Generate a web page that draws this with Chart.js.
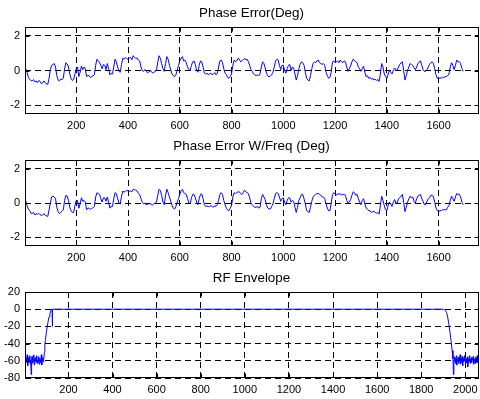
<!DOCTYPE html>
<html><head><meta charset="utf-8">
<script src="https://cdn.jsdelivr.net/npm/chart.js@4"></script>
<style>
html,body{margin:0;padding:0;background:#fff;}
#wrap{position:relative;width:480px;height:399px;overflow:hidden;background:#fff;}
.p{position:absolute;left:0;width:503px;}
</style></head><body>
<div id="wrap">
<div class="p" style="top:0;height:133px"><canvas id="c1"></canvas></div>
<div class="p" style="top:133px;height:132px"><canvas id="c2"></canvas></div>
<div class="p" style="top:265px;height:134px"><canvas id="c3"></canvas></div>
</div>
<script>
// ---- data ----
const phaseStart = 0, phaseStep = 5;   // sample index of first value, spacing
const phaseError = [
 0.15,0.1,-0.1,-0.4,-0.5,-0.58,-0.6,-0.52,-0.65,-0.6,-0.7,-0.58,-0.62,-0.75,-0.72,-0.6,-0.68,-0.78,-0.8,-0.45,
 0.05,0.3,0.35,0.4,0.2,-0.3,-0.55,-0.6,-0.5,-0.52,-0.45,0.1,0.45,0.38,0.2,-0.2,-0.45,-0.58,-0.5,-0.2,
 0.1,0.2,-0.35,-0.1,0.25,0.05,0.2,0.1,-0.35,-0.28,-0.3,-0.4,-0.35,-0.3,-0.25,0.3,0.65,0.55,0.45,0.3,
 0.1,0.35,0.3,0.05,0.4,0.1,-0.25,-0.15,-0.2,0.2,0.65,0.5,0.2,-0.05,-0.1,0.35,0.7,0.65,0.75,0.68,
 0.65,0.72,0.75,0.62,0.85,0.75,0.7,0.72,0.6,0.55,0.2,0.0,-0.05,0.05,-0.05,-0.12,-0.1,0.0,-0.05,-0.15,
 -0.1,-0.05,0.0,0.5,0.85,0.7,0.4,0.1,-0.05,0.4,0.8,0.65,0.3,0.05,-0.2,-0.3,-0.35,-0.25,0.0,0.3,
 0.55,0.7,0.8,0.55,0.6,0.45,0.2,0.05,0.0,0.3,0.5,0.55,0.35,0.0,-0.1,0.3,0.55,0.5,0.2,-0.15,
 -0.2,-0.15,-0.25,-0.2,-0.15,-0.25,-0.2,-0.12,-0.25,-0.15,0.2,0.55,0.6,0.45,0.1,-0.15,-0.25,-0.4,-0.45,-0.35,
 -0.2,0.3,0.6,0.5,0.55,0.7,0.65,0.5,0.55,0.62,0.7,0.6,0.65,0.5,0.3,0.05,-0.05,-0.2,-0.25,-0.3,
 -0.25,-0.3,-0.2,0.2,0.5,0.4,0.15,-0.15,-0.3,-0.38,-0.3,-0.25,-0.1,0.2,0.55,0.65,0.6,0.3,0.05,0.3,
 0.3,0.0,-0.15,0.1,0.3,0.35,0.0,0.2,0.15,-0.2,-0.55,-0.3,0.1,0.35,0.5,0.45,0.3,-0.1,-0.45,-0.55,
 -0.6,-0.3,0.1,0.4,0.5,0.45,0.55,0.6,0.45,0.4,0.35,0.4,0.3,-0.1,-0.3,-0.45,-0.4,-0.1,0.5,0.55,
 0.45,0.5,0.55,0.45,0.6,0.5,0.45,0.55,0.5,0.2,-0.05,0.1,0.25,0.5,0.65,0.55,0.5,0.45,0.2,0.1,
 -0.05,0.1,0.25,-0.1,-0.35,-0.3,-0.45,-0.4,-0.5,-0.45,-0.55,-0.5,-0.58,-0.52,-0.63,-0.2,0.4,0.2,-0.2,-0.35,
 -0.45,-0.2,0.0,-0.1,-0.2,0.0,0.15,0.05,0.0,0.2,0.35,0.45,0.5,0.0,-0.55,-0.3,0.0,0.2,0.4,0.35,
 0.3,0.15,0.05,0.2,0.4,0.5,0.55,0.3,0.05,-0.05,-0.05,0.05,0.2,0.35,0.45,0.5,0.4,0.1,-0.25,-0.45,
 -0.5,-0.4,-0.45,-0.38,-0.42,-0.35,-0.35,-0.3,-0.2,0.2,0.45,0.3,0.05,0.3,0.6,0.5,0.5,0.4,0.1,-0.05
];
const phaseErrorWFreq = [
 0.2,0.1,-0.15,-0.35,-0.45,-0.6,-0.6,-0.55,-0.7,-0.62,-0.65,-0.6,-0.68,-0.72,-0.7,-0.62,-0.72,-0.75,-0.78,-0.4,
 0.0,0.35,0.4,0.35,0.25,-0.25,-0.5,-0.62,-0.55,-0.48,-0.4,0.15,0.45,0.4,0.15,-0.25,-0.45,-0.55,-0.55,-0.15,
 0.15,0.15,-0.3,-0.05,0.3,0.1,0.15,0.05,-0.4,-0.3,-0.3,-0.38,-0.3,-0.28,-0.2,0.35,0.6,0.55,0.5,0.25,
 0.05,0.3,0.3,0.1,0.35,0.05,-0.3,-0.18,-0.2,0.25,0.6,0.55,0.25,0.0,-0.05,0.4,0.7,0.62,0.7,0.72,
 0.7,0.68,0.7,0.65,0.8,0.78,0.75,0.7,0.55,0.5,0.25,0.05,-0.05,0.0,-0.1,-0.08,-0.05,-0.02,-0.1,-0.12,
 -0.05,0.0,0.05,0.45,0.8,0.72,0.45,0.05,-0.1,0.45,0.8,0.6,0.35,0.1,-0.15,-0.3,-0.35,-0.2,0.05,0.25,
 0.5,0.72,0.8,0.6,0.55,0.5,0.25,0.0,-0.05,0.3,0.5,0.5,0.3,0.05,-0.1,0.25,0.5,0.52,0.25,-0.1,
 -0.2,-0.18,-0.2,-0.22,-0.15,-0.2,-0.25,-0.15,-0.2,-0.1,0.15,0.5,0.6,0.5,0.15,-0.1,-0.3,-0.4,-0.45,-0.3,
 -0.15,0.35,0.6,0.55,0.6,0.65,0.65,0.55,0.5,0.6,0.75,0.65,0.6,0.55,0.3,0.0,-0.1,-0.2,-0.25,-0.25,
 -0.2,-0.3,-0.25,0.25,0.5,0.35,0.2,-0.1,-0.3,-0.35,-0.35,-0.2,-0.05,0.25,0.55,0.6,0.55,0.35,0.1,0.25,
 0.3,0.05,-0.1,0.15,0.3,0.3,0.05,0.15,0.1,-0.25,-0.55,-0.25,0.15,0.3,0.5,0.5,0.25,-0.05,-0.45,-0.5,
 -0.55,-0.25,0.1,0.35,0.45,0.5,0.55,0.55,0.5,0.45,0.35,0.35,0.25,-0.05,-0.3,-0.45,-0.45,-0.05,0.5,0.6,
 0.5,0.45,0.55,0.5,0.55,0.45,0.5,0.5,0.45,0.15,0.0,0.05,0.2,0.45,0.65,0.6,0.45,0.5,0.25,0.05,
 -0.1,0.15,0.25,-0.05,-0.3,-0.35,-0.45,-0.45,-0.55,-0.5,-0.5,-0.55,-0.6,-0.55,-0.65,-0.15,0.4,0.15,-0.15,-0.4,
 -0.45,-0.15,0.05,-0.05,-0.2,0.05,0.2,0.0,0.0,0.25,0.3,0.4,0.5,0.05,-0.5,-0.25,0.05,0.25,0.4,0.3,
 0.35,0.1,0.0,0.25,0.4,0.45,0.5,0.25,0.1,-0.1,-0.1,0.1,0.25,0.3,0.45,0.45,0.35,0.05,-0.3,-0.45,
 -0.5,-0.45,-0.45,-0.4,-0.4,-0.38,-0.4,-0.25,-0.15,0.15,0.4,0.25,0.1,0.35,0.55,0.5,0.5,0.35,0.05,-0.1
];
const rfX = [
 3,5,7,9,11,13,15,17,19,21,23,25,27,29,31,33,35,37,39,41,43,45,47,49,51,53,55,57,59,61,63,65,67,69,71,73,75,77,79,81,83,85,87,
 89,91,93,96,100,104,108,112,116,120,124,126,127,128,130,
 1900,1905,1910,1915,1920,1925,1930,1935,1940,1944,1946,1948,
 1950,1952,1954,1956,1958,1960,1962,1964,1966,1968,1970,1972,1974,1976,1978,1980,1982,1984,1986,1988,1990,1992,1994,1996,1998,
 2000,2002,2004,2006,2008,2010,2012,2014,2016,2018,2020,2022,2024,2026,2028,2030,2032,2034,2036,2038,2040,2042,2044,2046,2048,
 2050,2052,2054,2056,2058,2060,2062
];
const rfEnvelope = [
 -58,-55,-63,-57,-61,-53,-66,-59,-56,-62,-58,-54,-64,-60,-76,-57,-55,-63,-59,-61,-53,-65,-58,-60,-56,-62,-57,-54,-63,-59,-61,-55,-64,-58,-57,-62,-60,-53,-65,-59,-56,-61,-58,
 -58,-50,-40,-35,-27,-20,-14,-9,-5,-2,0,0,-20,0,0,
 0,-0.5,-1.5,-4,-9,-17,-26,-36,-48,-58,-76,-59,
 -60,-55,-63,-57,-61,-54,-65,-58,-60,-56,-63,-57,-59,-53,-64,-60,-57,-62,-55,-66,-58,-61,-56,-60,-54,
 -63,-59,-57,-62,-58,-55,-67,-60,-57,-61,-54,-63,-58,-60,-56,-62,-57,-59,-55,-64,-60,-58,-61,-56,-63,
 -57,-59,-54,-62,-58,-60,-57
];
const phaseXTicks = [200,400,600,800,1000,1200,1400,1600];
const phaseYTicks = [-2,0,2];
const rfXTicks = [200,400,600,800,1000,1200,1400,1600,1800,2000];
const rfYTicks = [-80,-60,-40,-20,0,20];

// ---- drawing ----
const FONT = "'Liberation Sans', Arial, Helvetica, sans-serif";
Chart.defaults.font.family = FONT;
Chart.defaults.color = '#000';

const boxPlugin = {
  id: 'matlabBox',
  afterDatasetsDraw(chart) {
    const {ctx, chartArea: a, scales} = chart;
    const L = Math.round(a.left) + 0.5, R = Math.round(a.right) - 0.5;
    const T = Math.round(a.top) + 0.5, B = Math.round(a.bottom) - 0.5;
    ctx.save();
    ctx.setLineDash([]);
    ctx.strokeStyle = '#000';
    ctx.lineWidth = 1;
    ctx.strokeRect(L, T, R - L, B - T);
    ctx.beginPath();
    scales.x.ticks.forEach(t => {
      const px = Math.round(scales.x.getPixelForValue(t.value)) + 0.5;
      ctx.moveTo(px, B); ctx.lineTo(px, B - 4);
      ctx.moveTo(px, T); ctx.lineTo(px, T + 4);
    });
    scales.y.ticks.forEach(t => {
      const py = Math.round(scales.y.getPixelForValue(t.value)) + 0.5;
      ctx.moveTo(L, py); ctx.lineTo(L + 4, py);
      ctx.moveTo(R, py); ctx.lineTo(R - 4, py);
    });
    ctx.stroke();
    ctx.restore();
  }
};

function makeChart(id, title, xs, ys, xMin, xMax, yMin, yMax, xTicks, yTicks, xAxisH) {
  const pts = xs.map((x, i) => ({x, y: ys[i]}));
  return new Chart(document.getElementById(id), {
    type: 'line',
    data: { datasets: [{ data: pts, borderColor: '#0000ff', borderWidth: 1, pointRadius: 0, tension: 0, fill: false }] },
    options: {
      responsive: true, maintainAspectRatio: false, animation: false,
      layout: { padding: 0 },
      plugins: {
        legend: { display: false }, tooltip: { enabled: false },
        title: { display: true, text: title, color: '#000',
          font: { size: 13.4, weight: 'normal', family: FONT, lineHeight: '16px' },
          padding: { top: 5, bottom: 6 } }
      },
      scales: {
        x: { type: 'linear', min: xMin, max: xMax,
          afterBuildTicks: s => { s.ticks = xTicks.map(v => ({value: v})); },
          afterFit: s => { s.height = xAxisH; },
          ticks: { autoSkip: false, maxRotation: 0, padding: 5, font: { size: 11 }, color: '#000', callback: v => String(v) },
          grid: { color: '#000', lineWidth: 1, drawTicks: false },
          border: { display: false, dash: [6, 4] } },
        y: { type: 'linear', min: yMin, max: yMax,
          afterBuildTicks: s => { s.ticks = yTicks.map(v => ({value: v})); },
          afterFit: s => { s.width = 25; },
          ticks: { autoSkip: false, padding: 5, font: { size: 11 }, color: '#000', callback: v => String(v) },
          grid: { color: '#000', lineWidth: 1, drawTicks: false },
          border: { display: false, dash: [6, 4] } },
        yRight: { type: 'linear', position: 'right', display: true,
          afterFit: s => { s.width = 24; },
          ticks: { display: false }, grid: { display: false, drawTicks: false }, border: { display: false } }
      }
    },
    plugins: [boxPlugin]
  });
}

const phaseX = phaseError.map((_, i) => phaseStart + i * phaseStep);
makeChart('c1', 'Phase Error(Deg)', phaseX, phaseError, 2, 1756, -2.5, 2.5, phaseXTicks, phaseYTicks, 19);
makeChart('c2', 'Phase Error W/Freq (Deg)', phaseX, phaseErrorWFreq, 2, 1756, -2.5, 2.5, phaseXTicks, phaseYTicks, 19);
makeChart('c3', 'RF Envelope', rfX, rfEnvelope, 3, 2062, -80, 20, rfXTicks, rfYTicks, 21);
</script>
</body></html>
